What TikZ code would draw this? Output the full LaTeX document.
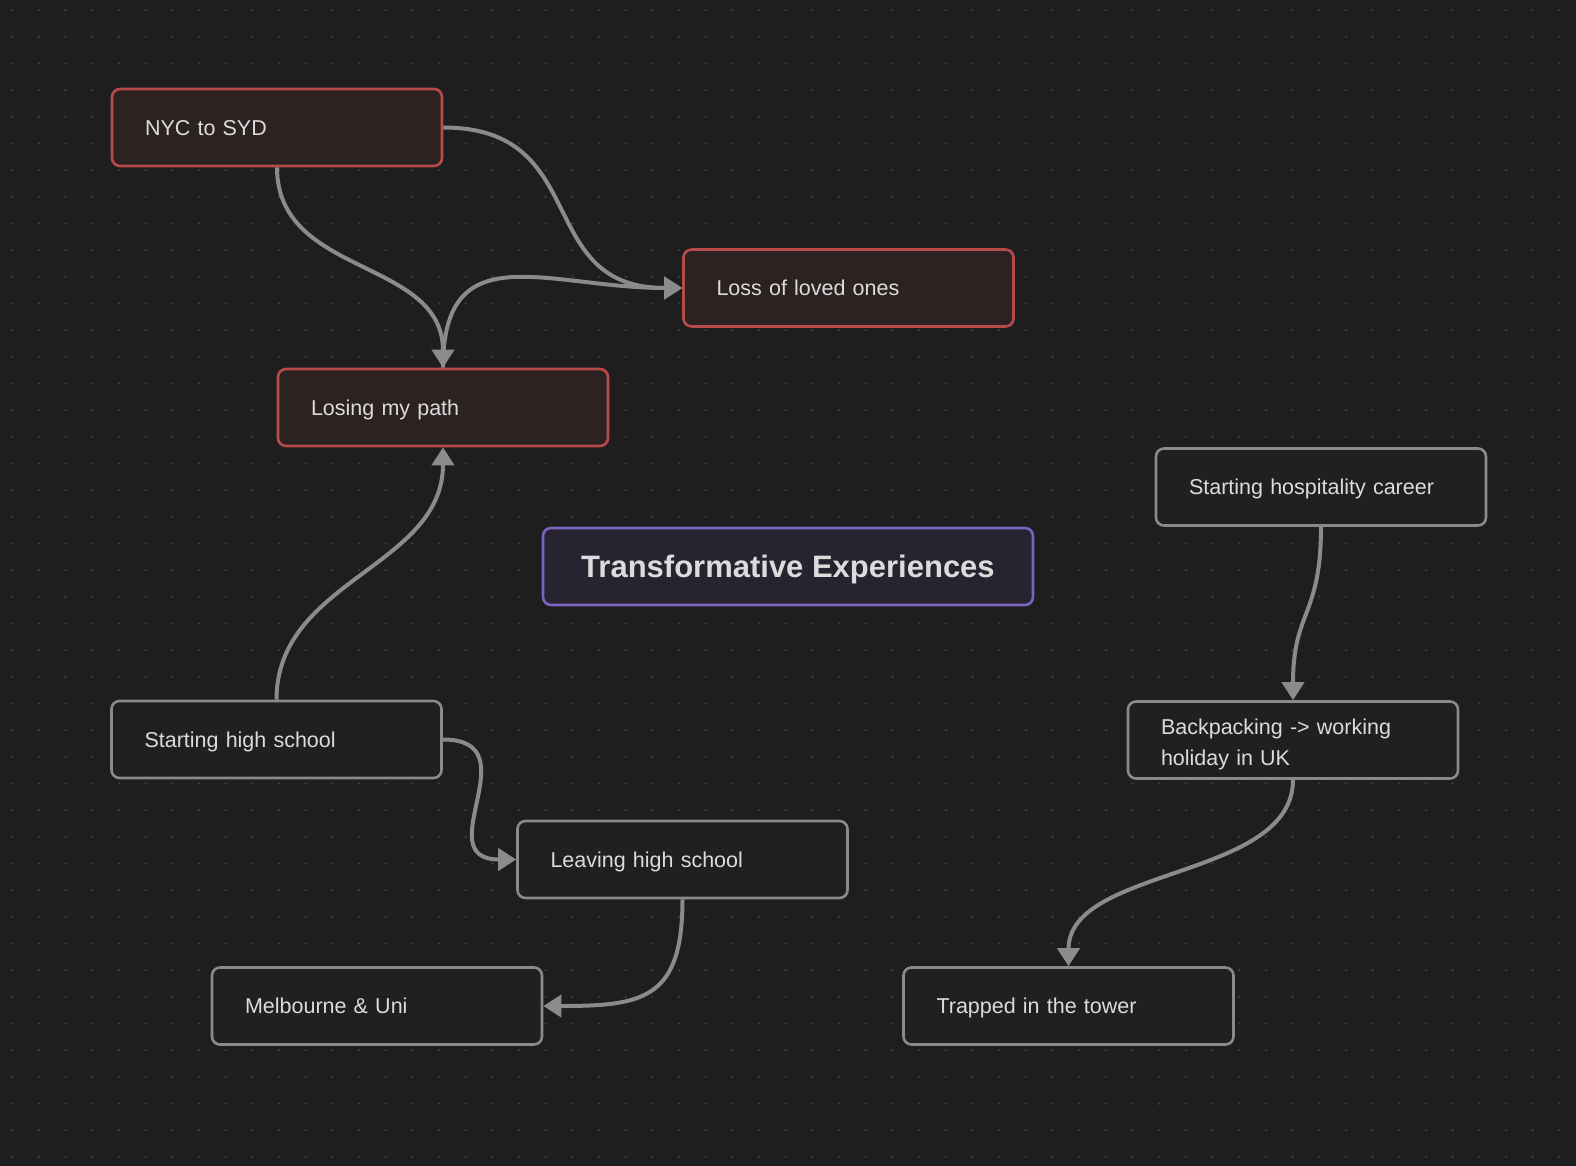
\documentclass[tikz,border=0pt]{standalone}
\usepackage{fontspec}
\setmainfont{Liberation Sans}
\usetikzlibrary{arrows.meta}
\definecolor{bgc}{HTML}{1E1E1E}
\definecolor{dotc}{HTML}{3C3C3C}
\definecolor{redb}{HTML}{B84A4A}
\definecolor{redf}{HTML}{2D2222}
\definecolor{grayb}{HTML}{8A8A8A}
\definecolor{grayf}{HTML}{202020}
\definecolor{purb}{HTML}{7D63C0}
\definecolor{purf}{HTML}{262430}
\definecolor{txt}{HTML}{DCDCDC}
\definecolor{edgec}{HTML}{8B8B8B}
\tikzset{
  cardbase/.style={rounded corners=8pt, line width=2.6pt, minimum width=330pt, minimum height=77pt,
    text width=264pt, inner xsep=33pt, inner ysep=0pt, align=left, text=txt,
    font=\fontsize{21.5}{31}\selectfont},
  card/.style={cardbase, text depth=0pt},
  redcard/.style={card, draw=redb, fill=redf},
  graycard/.style={card, draw=grayb, fill=grayf},
  cardtext/.style={cardbase, minimum height=0pt},
  titlecard/.style={rounded corners=8pt, line width=2.6pt, minimum width=490pt, minimum height=77pt,
    draw=purb, fill=purf, text=txt, text depth=0pt, font=\bfseries\fontsize{31}{38}\selectfont},
  conn/.style={draw=edgec, line width=4pt, -{Triangle[length=18pt,width=22pt]}}
}
\begin{document}
\begin{tikzpicture}[x=1pt,y=-1pt]
\fill[bgc] (0,0) rectangle (1576,1166);
\useasboundingbox (0,0) rectangle (1576,1166);
\foreach \i in {0,...,58} {
  \foreach \j in {0,...,43} {
    \fill[dotc] (12.3+26.67*\i, 10+26.67*\j) circle (1.4pt);
  }
}
\node[redcard] (nyc) at (277,127.5) {NYC to SYD};
\node[redcard] (loss) at (848.5,288) {Loss of loved ones};
\node[redcard] (losing) at (443,407.5) {Losing my path};
\node[titlecard] (title) at (788,566.5) {Transformative Experiences};
\node[graycard] (hosp) at (1321,487) {Starting hospitality career};
\node[graycard] (back) at (1293,740) {};
\node[cardtext] (backtxt) at (1293,744) {Backpacking -> working\\holiday in UK};
\node[graycard] (shs) at (276.5,739.5) {Starting high school};
\node[graycard] (lhs) at (682.5,859.5) {Leaving high school};
\node[graycard] (melb) at (377,1006) {Melbourne \& Uni};
\node[graycard] (trap) at (1068.5,1006) {Trapped in the tower};

\draw[conn] (nyc.east) .. controls +(150,0) and +(-150,0) .. (loss.west);
\draw[conn] (losing.north) .. controls +(0,-135) and +(-135,0) .. (loss.west);
\draw[conn] (nyc.south) .. controls +(0,110) and +(0,-110) .. (losing.north);
\draw[conn] (shs.north) .. controls +(0,-120) and +(0,120) .. (losing.south);
\draw[conn] (shs.east) .. controls +(90,0) and +(-90,0) .. (lhs.west);
\draw[conn] (lhs.south) .. controls +(0,100) and +(100,0) .. (melb.east);
\draw[conn] (hosp.south) .. controls +(0,90) and +(0,-90) .. (back.north);
\draw[conn] (back.south) .. controls +(0,100) and +(0,-100) .. (trap.north);
\end{tikzpicture}
\end{document}
